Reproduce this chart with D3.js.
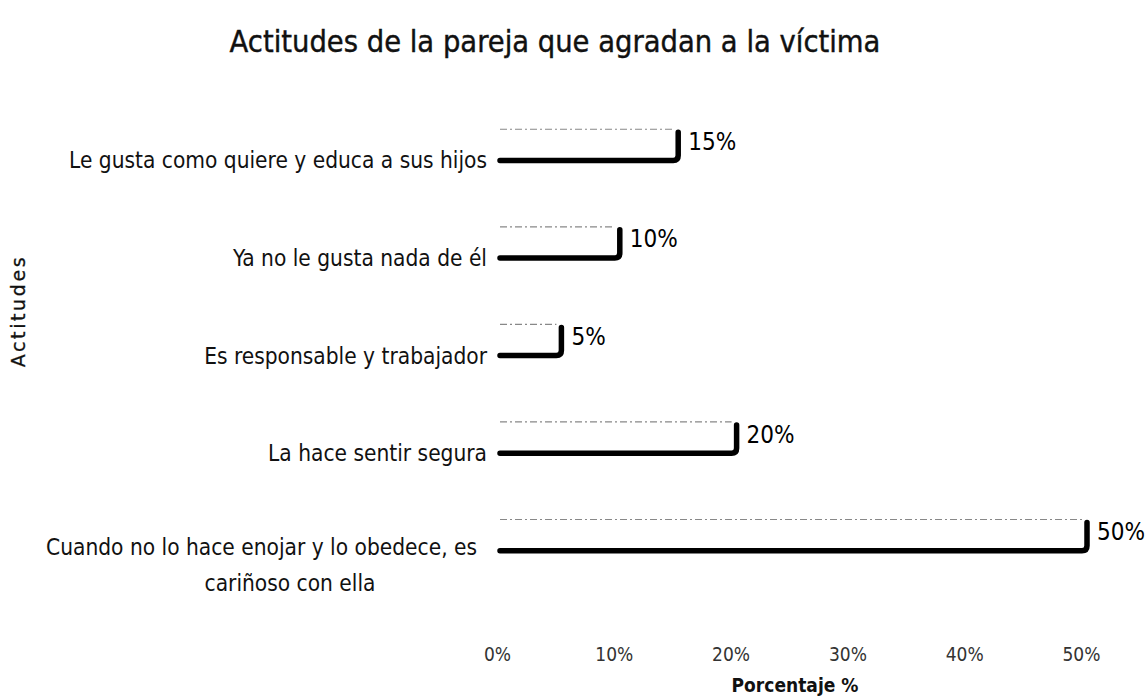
<!DOCTYPE html>
<html><head><meta charset="utf-8">
<script src="https://cdn.jsdelivr.net/npm/d3@7"></script>
<style>body{margin:0;background:#fff}svg{display:block}</style>
</head><body>
<svg id="c" width="1147" height="696"></svg>
<script>
const categories = [
  "Le  gusta como quiere y educa a sus hijos",
  "Ya no le gusta nada de él",
  "Es responsable y trabajador",
  "La hace sentir segura",
  "Cuando no lo hace enojar y lo obedece, es|cariñoso con ella"
];
const values = [15, 10, 5, 20, 50];
const tickValues = [0, 10, 20, 30, 40, 50];
const tickLabels = ["0%", "10%", "20%", "30%", "40%", "50%"];

const FONT = "DejaVu Sans Condensed, DejaVu Sans";
const svg = d3.select("#c");
const x = d3.scaleLinear().domain([0, 50]).range([503, 1087]);
const y = d3.scaleBand().domain(categories).range([100, 580]).paddingInner(0.68).paddingOuter(0.3);

svg.append("text").attr("x", 555).attr("y", 52).attr("text-anchor", "middle")
  .attr("font-family", FONT).attr("font-size", 30.5).attr("fill", "#111")
  .attr("stroke", "#111").attr("stroke-width", 0.4)
  .text("Actitudes de la pareja que agradan a la víctima");

const g = svg.append("g");
categories.forEach((c, i) => {
  const y0 = y(c), h = y.bandwidth(), x0 = x(0) - 3, x1 = x(values[i]);
  g.append("line").attr("x1", x0).attr("x2", x1 - 5).attr("y1", y0).attr("y2", y0)
    .attr("stroke", "#888").attr("stroke-width", 1.2).attr("stroke-dasharray", "7,3,2,3");
  g.append("path")
    .attr("d", `M${x0},${y0 + h} L${x1 - 5},${y0 + h} Q${x1},${y0 + h} ${x1},${y0 + h - 5} L${x1},${y0 + 3}`)
    .attr("fill", "none").attr("stroke", "#000").attr("stroke-width", 5.5).attr("stroke-linecap", "round");
  g.append("text").attr("x", x1 + 10).attr("y", y0 + h / 2 + 5)
    .attr("font-family", FONT).attr("font-size", 24).attr("fill", "#000")
    .text(values[i] + "%");
  const lines = c.split("|");
  const t = g.append("text").attr("text-anchor", "end")
    .attr("font-family", FONT).attr("font-size", 22.5).attr("fill", "#111");
  if (lines.length === 1) {
    t.attr("x", 487).attr("y", y0 + h + 8).text(lines[0]);
  } else {
    t.attr("x", 477).attr("y", y0 + h + 4).text(lines[0]);
    g.append("text").attr("text-anchor", "middle").attr("x", 290).attr("y", y0 + h + 40)
      .attr("font-family", FONT).attr("font-size", 22.5).attr("fill", "#111").text(lines[1]);
  }
});

const axis = d3.axisBottom(x).tickValues(tickValues).tickFormat((d, i) => tickLabels[i]).tickSize(0);
const ax = svg.append("g").attr("transform", "translate(0,644)").call(axis);
ax.select(".domain").remove();
ax.selectAll("text").attr("font-family", FONT)
  .attr("font-size", 19).attr("fill", "#333").attr("dx", -6);

svg.append("text").attr("x", 795).attr("y", 692).attr("text-anchor", "middle")
  .attr("font-family", FONT).attr("font-weight", "bold")
  .attr("font-size", 19).attr("fill", "#111").text("Porcentaje %");

svg.append("text").attr("transform", "translate(25,311) rotate(-90)").attr("text-anchor", "middle")
  .attr("font-family", "DejaVu Sans").attr("font-size", 19).attr("letter-spacing", 2.6)
  .attr("fill", "#111").attr("stroke", "#111").attr("stroke-width", 0.3).text("Actitudes");
</script>
</body></html>
